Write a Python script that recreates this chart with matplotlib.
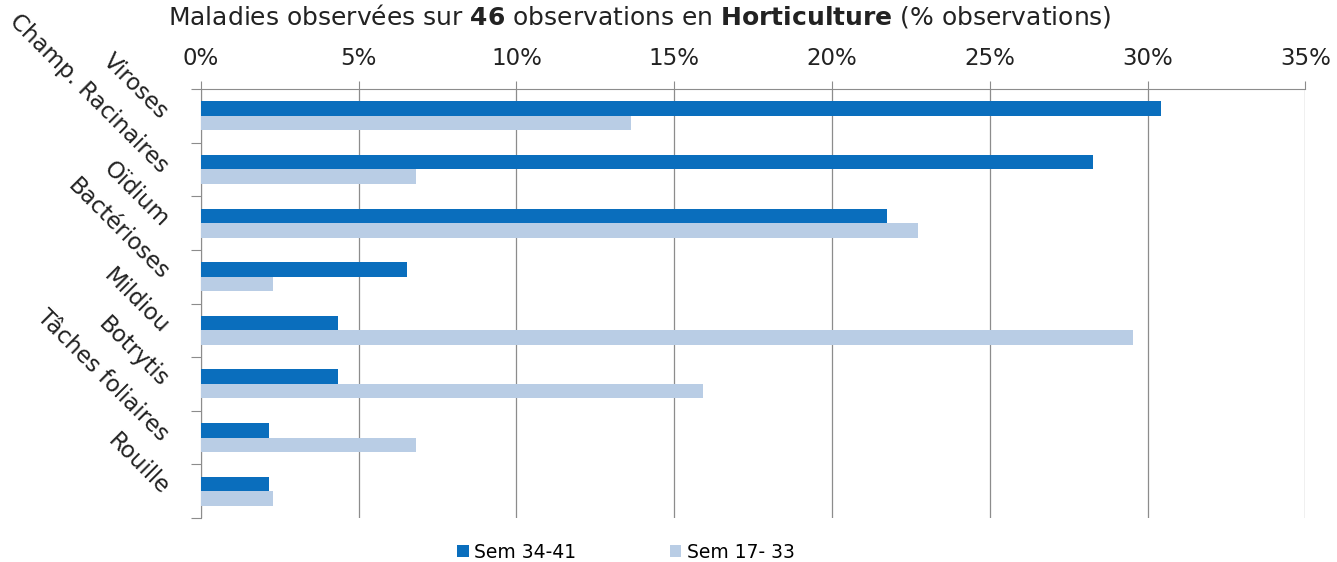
import matplotlib.pyplot as plt
import numpy as np
from matplotlib.ticker import PercentFormatter

categories = ["Viroses", "Champ. Racinaires", "Oïdium", "Bactérioses",
              "Mildiou", "Botrytis", "Tâches foliaires", "Rouille"]
sem_34_41 = [30.43, 28.26, 21.74, 6.52, 4.35, 4.35, 2.17, 2.17]
sem_17_33 = [13.64, 6.82, 22.73, 2.27, 29.55, 15.91, 6.82, 2.27]
series_names = ["Sem 34-41", "Sem 17- 33"]

dark = '#0A6EBD'
light = '#B9CDE5'
grey = '#8C8C8C'
txt = '#222222'

fig = plt.figure(figsize=(13.37, 5.62), dpi=100)
ax = fig.add_axes([0.1503, 0.0783, 0.826, 0.7633])

y = np.arange(len(categories))
h = 0.27
ax.barh(y - h / 2, sem_34_41, height=h, color=dark, label=series_names[0], zorder=3)
ax.barh(y + h / 2, sem_17_33, height=h, color=light, label=series_names[1], zorder=3)

ax.set_xlim(0, 35)
ax.set_ylim(len(categories) - 0.5, -0.5)
ax.xaxis.set_major_formatter(PercentFormatter(decimals=0))
ax.set_xticks(np.arange(0, 36, 5))
ax.xaxis.tick_top()
ax.tick_params(axis='x', length=6, color=grey, labelsize=16.5, pad=8, labelcolor=txt)
ax.grid(axis='x', color=grey, linewidth=0.9, zorder=0)

# category separators as ticks, names drawn rotated
ax.set_yticks(np.arange(-0.5, len(categories)))
ax.set_yticklabels([])
ax.tick_params(axis='y', length=7, color=grey)
for i, name in enumerate(categories):
    ax.annotate(name, xy=(0, i), xycoords=('axes fraction', 'data'),
                xytext=(-36, 0), textcoords='offset pixels',
                rotation=-45, rotation_mode='anchor', ha='right', va='center',
                fontsize=16.5, color=txt)

for s in ['right', 'bottom']:
    ax.spines[s].set_visible(False)
for s in ['top', 'left']:
    ax.spines[s].set_color(grey)

fig.text(640 / 1337, 1 - 24 / 562,
         "Maladies observées sur $\\mathbf{46}$ observations en "
         "$\\mathbf{Horticulture}$ (% observations)",
         ha='center', va='baseline', fontsize=18, color=txt)

fig.legend(loc='center', bbox_to_anchor=(626 / 1337, 1 - 552 / 562), ncol=2,
           frameon=False, fontsize=13.5, handlelength=0.6, handleheight=0.6,
           handletextpad=0.3, columnspacing=5)

plt.savefig('out.png')
